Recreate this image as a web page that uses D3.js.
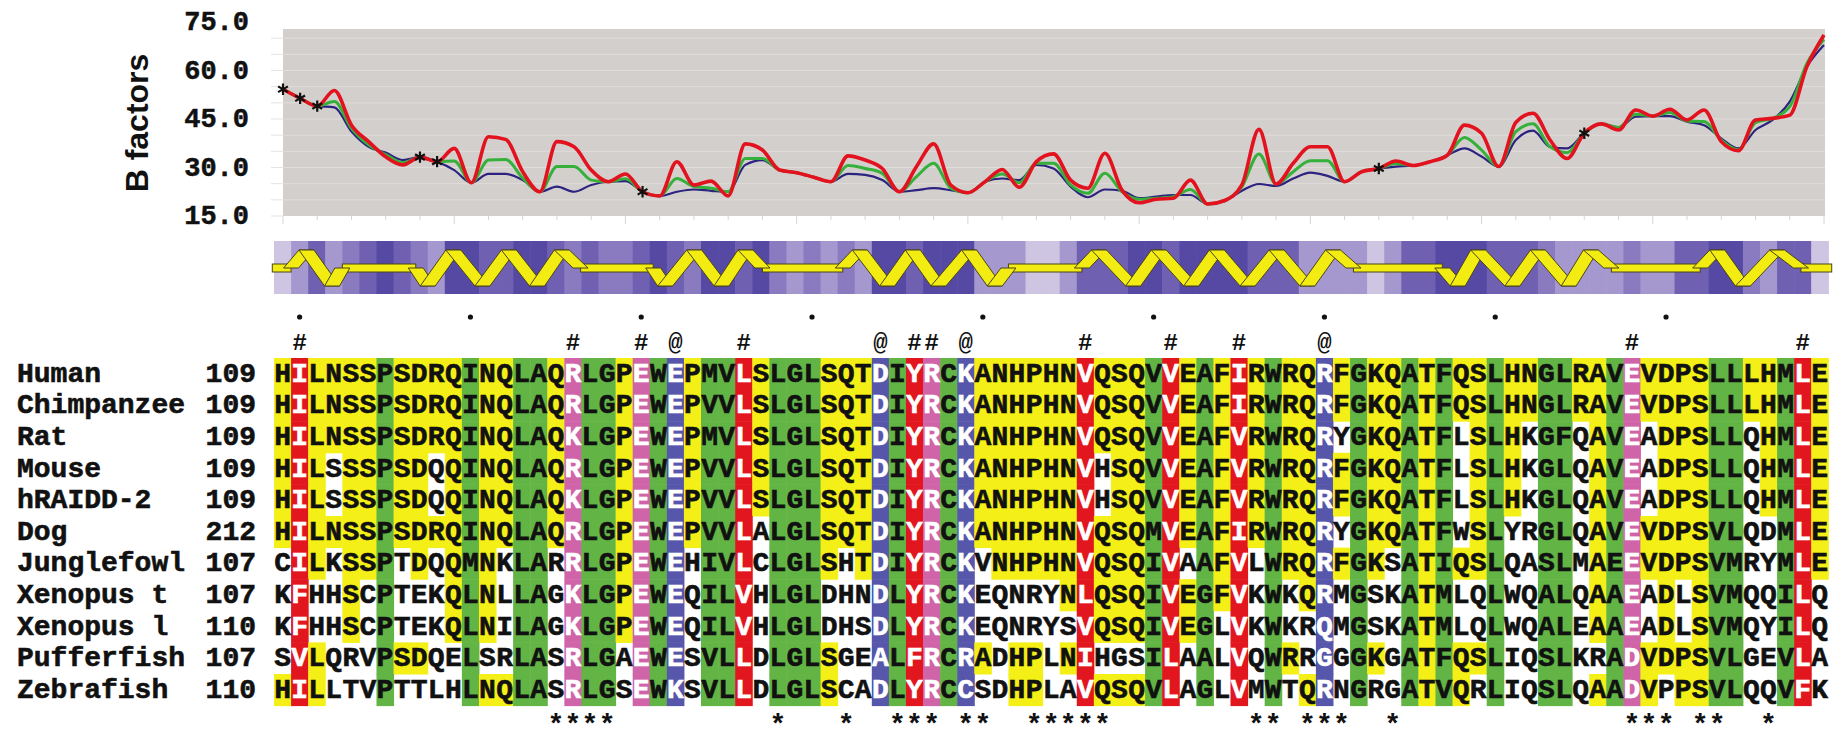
<!DOCTYPE html>
<meta charset="utf-8">
<style>
    body { margin: 0; background: #fff; }
    svg { display: block; }
    .mono { font-family: "Liberation Mono", "Courier New", monospace; font-weight: bold; }
</style>
<script src="https://d3js.org/d3.v7.min.js"></script>
<body>
<svg></svg>
</body>
<script>

    // ---- data ----
    var species = ['Human', 'Chimpanzee', 'Rat', 'Mouse', 'hRAIDD-2', 'Dog', 'Junglefowl',
        'Xenopus t', 'Xenopus l', 'Pufferfish', 'Zebrafish'];
    var startNums = [109, 109, 109, 109, 109, 212, 107, 107, 110, 107, 110];
    var sequences = [
        'HILNSSPSDRQINQLAQRLGPEWEPMVLSLGLSQTDIYRCKANHPHNVQSQVVEAFIRWRQRFGKQATFQSLHNGLRAVEVDPSLLLHMLE',
        'HILNSSPSDRQINQLAQRLGPEWEPVVLSLGLSQTDIYRCKANHPHNVQSQVVEAFIRWRQRFGKQATFQSLHNGLRAVEVDPSLLLHMLE',
        'HILNSSPSDRQINQLAQKLGPEWEPMVLSLGLSQTDIYRCKANHPHNVQSQVVEAFVRWRQRYGKQATFLSLHKGFQAVEADPSLLQHMLE',
        'HILSSSPSDQQINQLAQRLGPEWEPVVLSLGLSQTDIYRCKANHPHNVHSQVVEAFVRWRQRFGKQATFLSLHKGLQAVEADPSLLQHMLE',
        'HILSSSPSDQQINQLAQKLGPEWEPVVLSLGLSQTDIYRCKANHPHNVHSQVVEAFVRWRQRFGKQATFLSLHKGLQAVEADPSLLQHMLE',
        'HILNSSPSDRQINQLAQRLGPEWEPVVLALGLSQTDIYRCKANHPHNVQSQMVEAFIRWRQRYGKQATFWSLYRGLQAVEVDPSVLQDMLE',
        'CILKSSPTDQQMNKLARRLGPEWEHIVLCLGLSHTDIYRCKVNHPHNVQSQIVAAFVLWRQRFGKSATIQSLQASLMAEEVDPSVMRYMLE',
        'KFHHSCPTEKQLNLLAGKLGPEWEQILVHLGLDHNDLYRCKEQNRYNLQSQIVEGFVKWKQRMGSKATMLQLWQALQAAEADLSVMQQILQ',
        'KFHHSCPTEKQLNILAGKLGPEWEQILVHLGLDHSDLYRCKEQNRYSVQSQIVEGLVKWKRQMGSKATMLQLWQALEAAEADLSVMQYILQ',
        'SVLQRVPSDQELSRLASRLGAEWESVLLDLGLSGEALFRCRADHPLNIHGSILAALVQWRRGGGKGATFQSLIQSLKRADVDPSVLGEVLA',
        'HILLTVPTTLHLNQLASRLGSEWKSVLLDLGLSCADLYRCCSDHPLAVQSQVLAGLVMWTQRNGRGATVQRLIQSLQAADVPPSVLQQVFK'
    ];
    // column shading: y = yellow where identical to Human, g = green, r = red, p = pink, b = blue
    var colTypes = 'yryyyygyyy' + 'ygyyggypgg' + 'ypgbyggryg' + 'ggyyybgrpg' + 'byyyyyyryy' +
        'ygrygyrygy' + 'ybygyygygy' + 'ygyyggyygp' + 'yyyyggyygr' + 'y';
    var dotCols = [1, 11, 21, 31, 41, 51, 61, 71, 81];
    var hashCols = [1, 17, 21, 27, 37, 38, 47, 52, 56, 79, 89];
    var atCols = [23, 35, 40, 61];
    var starCols = [16, 17, 18, 19, 29, 33, 36, 37, 38, 40, 41, 44, 45, 46, 47, 48, 57, 58,
        60, 61, 62, 65, 79, 80, 81, 83, 84, 87];

    var bRed = [54.2, 51.4, 49.0, 53.8, 43.1, 38.0, 33.3, 30.8, 33.2, 31.8,
        35.9, 25.3, 39.5, 38.7, 28.7, 22.5, 38.0, 36.4, 29.2, 25.6,
        28.0, 22.5, 21.2, 31.8, 24.6, 25.8, 21.2, 37.3, 35.4, 29.2,
        28.4, 27.0, 25.6, 33.6, 32.3, 29.7, 22.5, 30.3, 37.3, 24.6,
        22.2, 25.6, 29.4, 23.9, 31.8, 34.2, 26.1, 23.6, 34.4, 23.0,
        19.1, 20.2, 20.5, 26.1, 18.7, 19.8, 24.6, 41.8, 24.9, 31.3,
        36.4, 36.4, 25.6, 28.7, 29.7, 32.0, 30.6, 31.8, 33.8, 43.1,
        40.6, 30.3, 43.9, 46.8, 38.5, 32.8, 40.6, 43.5, 41.6, 47.8,
        45.9, 48.0, 44.7, 47.8, 38.0, 35.2, 44.7, 45.2, 46.2, 61.2,
        71.0];
    var bGreen = [54.2, 51.4, 49.0, 50.4, 42.1, 37.0, 34.0, 31.5, 33.2, 31.8,
        32.0, 25.3, 32.3, 32.5, 26.7, 22.5, 30.3, 30.3, 26.1, 25.6,
        26.5, 22.5, 21.2, 26.6, 24.1, 23.6, 22.5, 32.8, 32.8, 29.2,
        28.4, 27.0, 25.6, 30.6, 29.7, 28.2, 22.5, 27.2, 31.3, 23.6,
        22.2, 25.6, 28.0, 25.3, 31.3, 31.3, 24.6, 22.0, 28.2, 22.5,
        20.2, 20.5, 21.0, 23.2, 18.7, 19.8, 24.0, 34.2, 24.9, 28.7,
        32.1, 32.1, 25.6, 28.7, 29.7, 31.2, 30.6, 31.8, 33.8, 39.3,
        35.4, 30.3, 41.1, 43.5, 36.4, 34.6, 40.6, 43.5, 42.4, 46.5,
        45.9, 47.0, 44.4, 44.2, 38.5, 35.5, 43.9, 45.2, 48.8, 62.2,
        69.6];
    var bBlue = [54.2, 51.4, 49.0, 48.6, 41.1, 36.4, 34.6, 32.3, 33.2, 31.8,
        29.2, 25.3, 28.0, 28.0, 26.1, 22.5, 24.1, 22.5, 24.6, 25.6,
        25.8, 22.5, 21.2, 22.5, 23.2, 22.8, 22.5, 30.8, 32.3, 29.2,
        28.4, 27.0, 25.6, 28.0, 27.7, 26.1, 22.5, 23.0, 23.6, 23.0,
        22.2, 25.6, 26.6, 26.1, 30.8, 29.7, 24.1, 20.8, 23.2, 22.8,
        20.5, 21.0, 21.5, 21.5, 18.7, 19.6, 22.8, 24.9, 24.3, 26.6,
        28.4, 27.4, 25.6, 28.7, 29.7, 30.3, 30.6, 31.8, 33.8, 35.9,
        33.4, 30.3, 38.5, 41.4, 36.4, 35.9, 40.6, 43.5, 42.4, 45.7,
        45.9, 45.9, 44.2, 43.1, 39.0, 35.9, 41.6, 44.7, 50.4, 61.2,
        67.9];
    var curveStars = [0, 1, 2, 8, 9, 21, 64, 76];
    var yTicks = [15, 30, 45, 60, 75];

    // purple strip shade level per residue (0 light .. 4 dark)
    var stripShade = [0, 1, 3, 1, 2, 3, 4, 3, 2, 1,
        4, 4, 3, 3, 4, 4, 3, 2, 3, 2,
        2, 3, 4, 3, 2, 4, 4, 3, 4, 2,
        1, 2, 1, 2, 1, 4, 4, 3, 4, 4,
        4, 1, 1, 1, 0, 0, 1, 3, 3, 3,
        4, 4, 3, 4, 4, 4, 4, 3, 3, 3,
        1, 1, 1, 1, 0, 1, 3, 3, 4, 4,
        4, 3, 3, 3, 2, 1, 1, 1, 1, 2,
        1, 1, 3, 3, 4, 4, 2, 1, 3, 3,
        0];
    // helices: start, turning points (u = top, d = bottom), end, in residue units
    var helices = [
        {start: 1.0, peaks: [[1.9, 'u'], [3.4, 'd']], end: 4.0},
        {start: 8.3, peaks: [[9.0, 'd'], [10.5, 'u'], [12.2, 'd'], [13.75, 'u'], [15.4, 'd'], [16.85, 'u']], end: 17.95},
        {start: 22.2, peaks: [[22.9, 'd'], [24.6, 'u'], [26.2, 'd'], [27.6, 'u']], end: 28.6},
        {start: 33.3, peaks: [[34.3, 'u'], [35.9, 'd'], [37.4, 'u'], [38.9, 'd'], [40.7, 'u'], [42.2, 'd']], end: 43.0},
        {start: 47.3, peaks: [[48.3, 'u'], [50.3, 'd'], [51.8, 'u'], [53.7, 'd'], [55.2, 'u'], [57.0, 'd'], [58.7, 'u'], [60.5, 'd'], [62.0, 'u']], end: 63.2},
        {start: 68.4, peaks: [[69.3, 'd'], [70.5, 'u'], [72.5, 'd'], [74.0, 'u'], [75.8, 'd'], [77.1, 'u']], end: 78.3},
        {start: 83.5, peaks: [[84.5, 'u'], [86.0, 'd'], [88.0, 'u']], end: 89.4}
    ];

    // ---- layout ----
    var svg = d3.select('svg').attr('width', 1845).attr('height', 729);
    var nRes = sequences[0].length;
    var ax = d3.scaleLinear().domain([0, nRes]).range([274, 1828.3]);
    var colW = ax(1) - ax(0);
    var bx = d3.scaleLinear().domain([0, nRes - 1]).range([283, 1824]);
    var by = d3.scaleLinear().domain([15, 75]).range([216, 22]);

    // ---- B factor chart ----
    var plot = svg.append('g');
    plot.append('rect')
            .attr('x', 283).attr('y', 29)
            .attr('width', 1825 - 283).attr('height', 216 - 29)
            .attr('fill', '#d3cfcc');
    plot.selectAll('.grid').data(d3.range(20, 71, 5)).enter().append('line')
            .attr('x1', 283).attr('x2', 1825)
            .attr('y1', function (d) { return by(d); })
            .attr('y2', function (d) { return by(d); })
            .attr('stroke', '#e0dcda').attr('stroke-width', 1);
    plot.selectAll('.ltick').data(d3.range(15, 71, 5)).enter().append('line')
            .attr('x1', 271).attr('x2', 283)
            .attr('y1', function (d) { return by(d); })
            .attr('y2', function (d) { return by(d); })
            .attr('stroke', '#e4e4e4').attr('stroke-width', 1);
    plot.selectAll('.btick').data(d3.range(0, nRes, 2)).enter().append('line')
            .attr('x1', function (d) { return bx(d); })
            .attr('x2', function (d) { return bx(d); })
            .attr('y1', 216)
            .attr('y2', function (d) { return d % 10 === 0 ? 224 : 220; })
            .attr('stroke', '#d6d6d6').attr('stroke-width', 1);

    plot.selectAll('.ylab').data(yTicks).enter().append('text')
            .attr('class', 'mono')
            .attr('x', 249)
            .attr('y', function (d) { return by(d) + 8; })
            .attr('text-anchor', 'end')
            .style('font-size', '27px')
            .attr('fill', '#111')
            .attr('stroke', '#111').attr('stroke-width', 0.5)
            .text(function (d) { return d3.format('.1f')(d); });

    plot.append('text')
            .attr('transform', 'translate(148,123) rotate(-90)')
            .attr('text-anchor', 'middle')
            .style('font', 'bold 32px "Liberation Sans", Arial, sans-serif')
            .attr('fill', '#111')
            .text('B factors');

    var line = d3.line()
            .x(function (d, i) { return bx(i); })
            .y(function (d) { return by(d); })
            .curve(d3.curveMonotoneX);
    [[bBlue, '#2c2380', 2.2], [bGreen, '#35b03a', 3], [bRed, '#e3121f', 3.6]].forEach(function (s) {
        plot.append('path')
                .attr('d', line(s[0]))
                .attr('fill', 'none')
                .attr('stroke', s[1])
                .attr('stroke-width', s[2])
                .attr('stroke-linejoin', 'round');
    });
    plot.selectAll('.cstar').data(curveStars).enter().append('path')
            .attr('d', d3.symbol().type(d3.symbolAsterisk).size(90))
            .attr('transform', function (d) { return 'translate(' + bx(d) + ',' + by(bRed[d]) + ')'; })
            .attr('fill', 'none').attr('stroke', '#111').attr('stroke-width', 2.2);

    // ---- secondary structure strip ----
    var shadeColors = ['#cdc5e2', '#a598cf', '#8a7bc1', '#6f60b2', '#5649a4'];
    var strip = svg.append('g');
    strip.selectAll('.ss').data(stripShade).enter().append('rect')
            .attr('x', function (d, i) { return ax(i); })
            .attr('y', 241)
            .attr('width', colW + 0.6)
            .attr('height', 53)
            .attr('fill', function (d) { return shadeColors[d]; });

    var yU = 250, yD = 286, yM = 268, hw = 7.5;
    var ribbonFill = '#f2ec12', ribbonEdge = '#4b4418';
    var coils = [];
    var prev = -0.1;
    helices.forEach(function (h) {
        coils.push([prev, h.start]);
        prev = h.end;
    });
    coils.push([prev, nRes + 0.2]);
    strip.selectAll('.coil').data(coils).enter().append('rect')
            .attr('x', function (d) { return ax(d[0]); })
            .attr('y', yM - 4)
            .attr('width', function (d) { return ax(d[1]) - ax(d[0]); })
            .attr('height', 8)
            .attr('fill', ribbonFill).attr('stroke', ribbonEdge).attr('stroke-width', 1);

    var bands = [];
    helices.forEach(function (h) {
        var pts = [[h.start, yM]].concat(h.peaks.map(function (p) {
            return [p[0], p[1] === 'u' ? yU : yD];
        })).concat([[h.end, yM]]);
        for (var j = 0; j < pts.length - 1; j++) bands.push([pts[j], pts[j + 1]]);
    });
    strip.selectAll('.band').data(bands).enter().append('polygon')
            .attr('points', function (d) {
                var x0 = ax(d[0][0]), y0 = d[0][1], x1 = ax(d[1][0]), y1 = d[1][1];
                return [[x0 - hw, y0], [x0 + hw, y0], [x1 + hw, y1], [x1 - hw, y1]].join(' ');
            })
            .attr('fill', ribbonFill).attr('stroke', ribbonEdge).attr('stroke-width', 1)
            .attr('stroke-linejoin', 'round');

    // ---- alignment ----
    var rowTop = 358, rowH = 31.6;
    var cellColors = {y: '#f4ef16', g: '#62b545', r: '#e2161e', p: '#d064a9', b: '#5656aa'};
    var cells = [];
    sequences.forEach(function (seq, r) {
        for (var k = 0; k < seq.length; k++) {
            var t = colTypes[k];
            var fill = null;
            if (t === 'y') fill = seq[k] === sequences[0][k] ? cellColors.y : null;
            else fill = cellColors[t];
            cells.push({r: r, k: k, ch: seq[k], fill: fill, white: 'rpb'.indexOf(t) >= 0});
        }
    });
    var aln = svg.append('g');
    aln.selectAll('.cell').data(cells.filter(function (c) { return c.fill; })).enter().append('rect')
            .attr('x', function (d) { return ax(d.k); })
            .attr('y', function (d) { return rowTop + d.r * rowH; })
            .attr('width', colW + 0.5)
            .attr('height', rowH + 0.5)
            .attr('fill', function (d) { return d.fill; });
    aln.selectAll('.res').data(cells).enter().append('text')
            .attr('class', 'mono')
            .attr('x', function (d) { return ax(d.k + 0.5); })
            .attr('y', function (d) { return rowTop + d.r * rowH + rowH / 2 + 8; })
            .attr('text-anchor', 'middle')
            .style('font-size', '28px')
            .attr('fill', function (d) { return d.white ? '#fff' : '#111'; })
            .attr('stroke', function (d) { return d.white ? '#fff' : '#111'; })
            .attr('stroke-width', 0.6)
            .text(function (d) { return d.ch; });

    aln.selectAll('.name').data(species).enter().append('text')
            .attr('class', 'mono')
            .attr('x', 17)
            .attr('y', function (d, i) { return rowTop + i * rowH + rowH / 2 + 8; })
            .style('font-size', '28px')
            .attr('fill', '#111')
            .attr('stroke', '#111').attr('stroke-width', 0.6)
            .text(function (d) { return d; });
    aln.selectAll('.num').data(startNums).enter().append('text')
            .attr('class', 'mono')
            .attr('x', 256)
            .attr('y', function (d, i) { return rowTop + i * rowH + rowH / 2 + 8; })
            .attr('text-anchor', 'end')
            .style('font-size', '28px')
            .attr('fill', '#111')
            .attr('stroke', '#111').attr('stroke-width', 0.6)
            .text(function (d) { return d; });

    aln.selectAll('.dot').data(dotCols).enter().append('circle')
            .attr('cx', function (d) { return ax(d + 0.5); })
            .attr('cy', 317)
            .attr('r', 2.6)
            .attr('fill', '#111');
    var marks = hashCols.map(function (k) { return {k: k, s: '#'}; })
            .concat(atCols.map(function (k) { return {k: k, s: '@'}; }));
    aln.selectAll('.mark').data(marks).enter().append('text')
            .attr('class', 'mono')
            .attr('x', function (d) { return ax(d.k + 0.5); })
            .attr('y', 350)
            .attr('text-anchor', 'middle')
            .style('font-size', '24px')
            .attr('fill', '#111')
            .text(function (d) { return d.s; });
    aln.selectAll('.star').data(starCols).enter().append('text')
            .attr('class', 'mono')
            .attr('x', function (d) { return ax(d + 0.5); })
            .attr('y', 733)
            .attr('text-anchor', 'middle')
            .style('font-size', '28px')
            .attr('fill', '#111')
            .text('*');

</script>
</html>
